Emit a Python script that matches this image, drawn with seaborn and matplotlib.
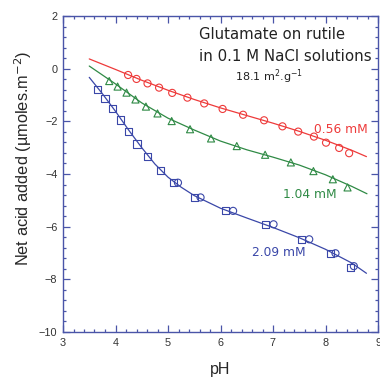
import numpy as np
import pandas as pd
import seaborn as sns
import matplotlib
matplotlib.use("Agg")
import matplotlib.pyplot as plt
from matplotlib.ticker import MultipleLocator

# ---- data ----
red_pH = [4.24, 4.40, 4.61, 4.83, 5.08, 5.37, 5.69, 6.04, 6.43, 6.83, 7.18, 7.48, 7.78, 8.01, 8.26, 8.45]
red_val = [-0.24, -0.39, -0.56, -0.72, -0.92, -1.10, -1.32, -1.53, -1.75, -1.96, -2.19, -2.39, -2.58, -2.81, -3.01, -3.21]

green_pH = [3.88, 4.04, 4.21, 4.38, 4.58, 4.80, 5.07, 5.42, 5.82, 6.31, 6.85, 7.34, 7.77, 8.14, 8.42]
green_val = [-0.47, -0.68, -0.91, -1.17, -1.44, -1.70, -1.99, -2.30, -2.65, -2.94, -3.27, -3.56, -3.89, -4.20, -4.51]

blue_sq_pH = [3.66, 3.80, 3.95, 4.10, 4.25, 4.41, 4.61, 4.85, 5.11, 5.51, 6.10, 6.85, 7.55, 8.10, 8.47]
blue_sq_val = [-0.78, -1.13, -1.52, -1.95, -2.39, -2.86, -3.34, -3.85, -4.33, -4.89, -5.40, -5.91, -6.48, -7.01, -7.55]
blue_ci_pH = [5.19, 5.62, 6.24, 7.01, 7.69, 8.19, 8.54]
blue_ci_val = [-4.33, -4.89, -5.40, -5.91, -6.48, -7.01, -7.50]

red_fit_pH = [3.5, 4.0, 4.5, 5.0, 5.5, 6.0, 6.5, 7.0, 7.5, 8.0, 8.5, 8.78]
red_fit_val = [0.37, -0.03, -0.44, -0.82, -1.17, -1.49, -1.78, -2.07, -2.38, -2.72, -3.10, -3.34]

green_fit_pH = [3.5, 4.0, 4.5, 5.0, 5.5, 6.0, 6.5, 7.0, 7.5, 8.0, 8.5, 8.79]
green_fit_val = [0.10, -0.58, -1.30, -1.88, -2.33, -2.75, -3.08, -3.36, -3.66, -4.03, -4.47, -4.75]

blue_fit_pH = [3.5, 3.75, 4.0, 4.25, 4.5, 4.75, 5.0, 5.25, 5.5, 6.0, 6.5, 7.0, 7.5, 8.0, 8.5, 8.78]
blue_fit_val = [-0.33, -0.95, -1.62, -2.33, -3.00, -3.62, -4.12, -4.50, -4.82, -5.30, -5.67, -6.03, -6.42, -6.86, -7.38, -7.77]

RED = "#ee3a3a"
GREEN = "#2f8a45"
BLUE = "#3a47a8"
SPINE = "#4a55a8"

sns.set_style("ticks")
plt.rcParams['font.family'] = ['DejaVu Sans']

fig = plt.figure(figsize=(3.8, 3.77), dpi=100)
ax = fig.add_axes([63/380, 45/377, 315/380, 316/377])

for xs, ys, c in [(red_fit_pH, red_fit_val, RED), (green_fit_pH, green_fit_val, GREEN), (blue_fit_pH, blue_fit_val, BLUE)]:
    sns.lineplot(x=xs, y=ys, ax=ax, color=c, linewidth=0.9, sort=False)

ms = 26
sns.scatterplot(x=red_pH, y=red_val, ax=ax, marker='o', s=ms, facecolor='none', edgecolor=RED, linewidth=0.8)
sns.scatterplot(x=green_pH, y=green_val, ax=ax, marker='^', s=ms, facecolor='none', edgecolor=GREEN, linewidth=0.8)
sns.scatterplot(x=blue_sq_pH, y=blue_sq_val, ax=ax, marker='s', s=ms, facecolor='none', edgecolor=BLUE, linewidth=0.8)
sns.scatterplot(x=blue_ci_pH, y=blue_ci_val, ax=ax, marker='o', s=ms, facecolor='none', edgecolor=BLUE, linewidth=0.8)

ax.set_xlim(3, 9)
ax.set_ylim(-10, 2)
ax.xaxis.set_major_locator(MultipleLocator(1))
ax.xaxis.set_minor_locator(MultipleLocator(0.2))
ax.yaxis.set_major_locator(MultipleLocator(2))
ax.yaxis.set_minor_locator(MultipleLocator(0.4))
ax.tick_params(which='both', direction='in', top=True, right=True, color=SPINE, width=0.9,
               labelsize=7.8, labelcolor='#333333', pad=4)
ax.tick_params(which='major', length=5)
ax.tick_params(which='minor', length=2.5)
for lab in ax.get_xticklabels() + ax.get_yticklabels():
    lab.set_family('Liberation Sans')
for sp in ax.spines.values():
    sp.set_color(SPINE)
    sp.set_linewidth(1.0)

ax.set_xlabel("pH", fontsize=11.5, family='Liberation Sans')
ax.set_ylabel("Net acid added (\u00b5moles.m$^{-2}$)", fontsize=11.8, family='Liberation Sans')
ax.xaxis.label.set_va('center')
ax.xaxis.set_label_coords(0.5, -0.12)
ax.yaxis.label.set_rotation_mode('default')
ax.yaxis.label.set_va('center')
ax.yaxis.set_label_coords(-0.125, 0.55)

ax.text(0.432, 0.927, "Glutamate on rutile", transform=ax.transAxes, fontsize=10.7, color='#222222', va='baseline', ha='left')
ax.text(0.432, 0.858, "in 0.1 M NaCl solutions", transform=ax.transAxes, fontsize=10.8, color='#222222', va='baseline', ha='left')
ax.text(0.546, 0.794, "18.1 m$^{2}$.g$^{-1}$", transform=ax.transAxes, fontsize=8.0, color='#222222', va='baseline', ha='left')
ax.text(0.797, 0.631, "0.56 mM", transform=ax.transAxes, fontsize=8.8, color=RED, va='baseline', ha='left')
ax.text(0.698, 0.423, "1.04 mM", transform=ax.transAxes, fontsize=8.8, color=GREEN, va='baseline', ha='left')
ax.text(0.600, 0.2415, "2.09 mM", transform=ax.transAxes, fontsize=8.8, color=BLUE, va='baseline', ha='left')

fig.savefig("out.png", dpi=100)
